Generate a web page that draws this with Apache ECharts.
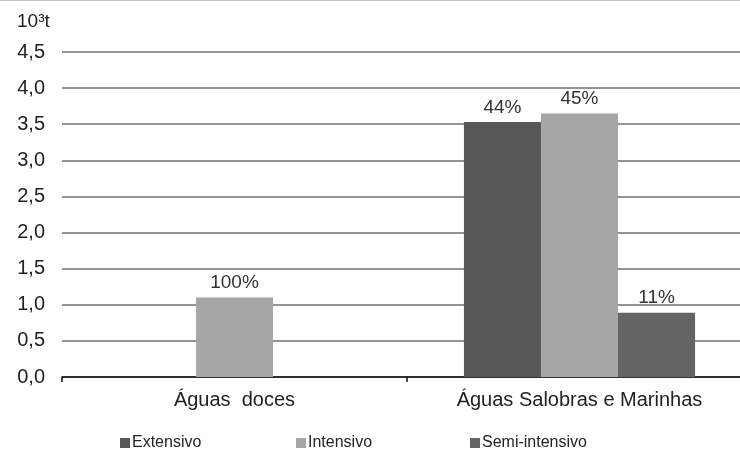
<!DOCTYPE html>
<html>
<head>
<meta charset="utf-8">
<style>
  html, body { margin: 0; padding: 0; background: #fff; }
  #chart { width: 740px; height: 453px; }
</style>
<script src="https://cdn.jsdelivr.net/npm/echarts@6/dist/echarts.min.js"></script>
</head>
<body>
<div id="chart"></div>
<script>
// Production by water type and farming regime (10^3 t)
const categories = ['Águas  doces', 'Águas Salobras e Marinhas'];
const extensivo = [null, 3.53];
const intensivo = [1.10, 3.65];
const semiIntensivo = [null, 0.89];
const yTicks = { min: 0, max: 4.5, interval: 0.5 };

const seriesDefs = [
  { name: 'Extensivo', data: extensivo, color: '#575757' },
  { name: 'Intensivo', data: intensivo, color: '#a6a6a6' },
  { name: 'Semi-intensivo', data: semiIntensivo, color: '#646464' }
];

// share of each regime within its category total, shown above the bar
function shareLabel(seriesIdx, catIdx) {
  let total = 0;
  seriesDefs.forEach(s => { total += s.data[catIdx] || 0; });
  const v = seriesDefs[seriesIdx].data[catIdx];
  return Math.round(v / total * 100) + '%';
}

const font = 'Liberation Sans, Arial, sans-serif';
const chart = echarts.init(document.getElementById('chart'));

const legendLefts = [115, 291, 465];

chart.setOption({
  animation: false,
  textStyle: { fontFamily: font },
  graphic: [
    { type: 'rect', shape: { x: 0, y: 0, width: 740, height: 1 }, style: { fill: '#c4c4c4' } },
    { type: 'text', left: 17, top: 12, style: { text: '10³t', font: '19px ' + font, fill: '#222' } }
  ],
  grid: {
    left: 62, top: 52, width: 690, height: 325,
    containLabel: false,
    outerBoundsMode: 'none'
  },
  legend: seriesDefs.map((s, i) => ({
    data: [s.name],
    left: legendLefts[i],
    top: 430,
    itemWidth: 10,
    itemHeight: 10,
    itemGap: 0,
    icon: 'rect',
    textStyle: { fontSize: 16, color: '#222', fontFamily: font, padding: [0, 0, 0, -3] }
  })),
  xAxis: {
    type: 'category',
    data: categories,
    axisLine: { lineStyle: { color: '#111', width: 1.5 } },
    axisTick: { show: true, length: 5, lineStyle: { color: '#111', width: 1.5 } },
    axisLabel: { fontSize: 20, color: '#222', margin: 13, fontFamily: font }
  },
  yAxis: {
    type: 'value',
    min: yTicks.min,
    max: yTicks.max,
    interval: yTicks.interval,
    axisLine: { show: false },
    axisTick: { show: false },
    axisLabel: {
      fontSize: 20, color: '#222', margin: 17, fontFamily: font,
      formatter: v => v.toFixed(1).replace('.', ',')
    },
    splitLine: { lineStyle: { color: '#939393', width: 2 } }
  },
  series: seriesDefs.map((s, si) => ({
    name: s.name,
    type: 'bar',
    data: s.data,
    barGap: '0%',
    barCategoryGap: '33%',
    itemStyle: { color: s.color },
    label: {
      show: true,
      position: 'top',
      distance: 5,
      fontSize: 19,
      color: '#333',
      fontFamily: font,
      formatter: p => shareLabel(si, p.dataIndex)
    }
  }))
});
</script>
</body>
</html>
